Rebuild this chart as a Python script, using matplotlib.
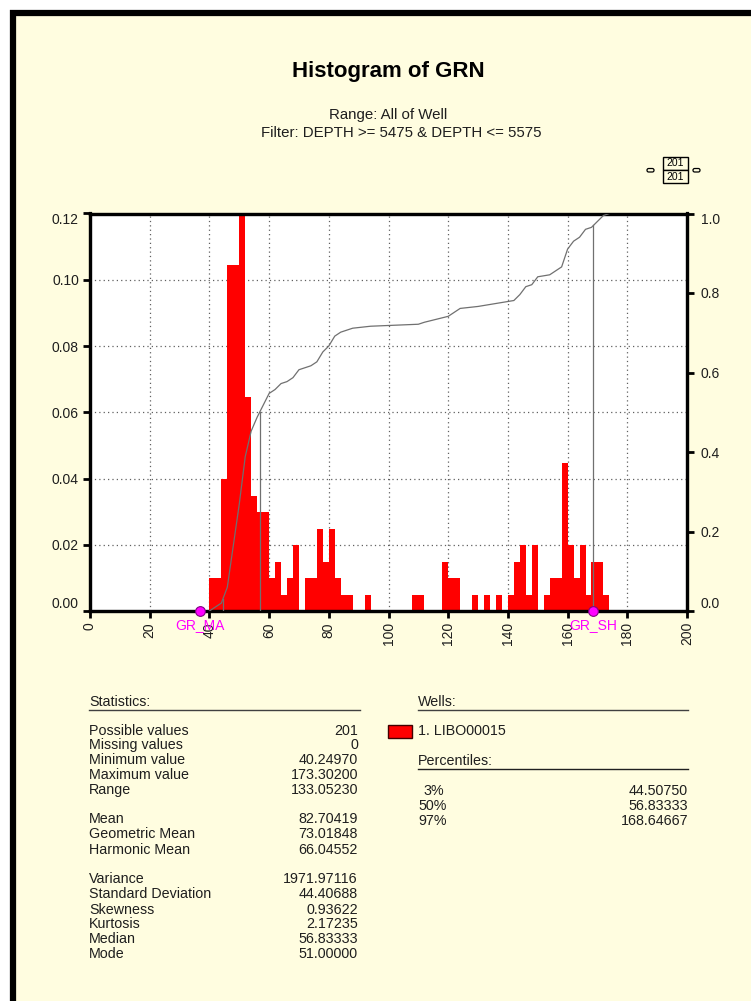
import numpy as np
import matplotlib.pyplot as plt
from matplotlib.patches import Rectangle, FancyBboxPatch
from matplotlib.lines import Line2D
from matplotlib.transforms import IdentityTransform

plt.rcParams['font.family'] = ['Liberation Sans', 'DejaVu Sans']

# ---- data -------------------------------------------------------------
n_values = 201
bin_width = 2
bin_start = [40, 42, 44, 46, 48, 50, 52, 54, 56, 58, 60, 62, 64, 66, 68,
             72, 74, 76, 78, 80, 82, 84, 86, 92, 108, 110, 118, 120, 122,
             128, 132, 136, 140, 142, 144, 146, 148, 152, 154, 156, 158,
             160, 162, 164, 166, 168, 170, 172]
bin_count = [2, 2, 8, 21, 21, 24, 13, 7, 6, 6, 2, 3, 1, 2, 4,
             2, 2, 5, 3, 5, 2, 1, 1, 1, 1, 1, 3, 2, 2,
             1, 1, 1, 1, 3, 4, 1, 4, 1, 2, 2, 9,
             4, 2, 4, 1, 3, 3, 1]

pct_labels = ["3%", "50%", "97%"]
pct_frac = [0.03, 0.50, 0.97]
pct_values = [44.50750, 56.83333, 168.64667]

param_names = ["GR_MA", "GR_SH"]
param_values = [36.9, 168.64667]

stats_groups = [
    [("Possible values", "201"), ("Missing values", "0"),
     ("Minimum value", "40.24970"), ("Maximum value", "173.30200"),
     ("Range", "133.05230")],
    [("Mean", "82.70419"), ("Geometric Mean", "73.01848"),
     ("Harmonic Mean", "66.04552")],
    [("Variance", "1971.97116"), ("Standard Deviation", "44.40688"),
     ("Skewness", "0.93622"), ("Kurtosis", "2.17235"),
     ("Median", "56.83333"), ("Mode", "51.00000")],
]
well_name = "1. LIBO00015"
x_ticks = list(range(0, 201, 20))
y_ticks = [0.00, 0.02, 0.04, 0.06, 0.08, 0.10, 0.12]
y2_ticks = [0.0, 0.2, 0.4, 0.6, 0.8, 1.0]

# ---- figure -----------------------------------------------------------
W, H = 751, 1001
fig = plt.figure(figsize=(W / 100, H / 100), dpi=100)
fig.patch.set_facecolor('white')
cream = '#FFFDE0'
txt = '#1E1E1E'


def fx(x):
    return x / W


def fy(y):
    return 1 - y / H


# panel with heavy black frame
fig.patches.append(Rectangle((fx(13), fy(1040)), fx(800), (1040 - 13) / H,
                             transform=fig.transFigure, facecolor=cream,
                             edgecolor='black', linewidth=4.5, zorder=-10))

ax = fig.add_axes([fx(90), fy(611), fx(687) - fx(90), (611 - 213.5) / H])
ax.set_facecolor('white')

density = np.array(bin_count) / n_values
ax.bar(bin_start, density, width=bin_width, align='edge', color='#FF0000',
       edgecolor='none', linewidth=0, zorder=2)

ax.set_xlim(0, 200)
ax.set_ylim(0, 0.12)
ax.set_xticks(x_ticks)
ax.set_yticks(y_ticks)
ax.set_xticklabels([str(t) for t in x_ticks], rotation=90, fontsize=10,
                   color=txt)
ax.set_yticklabels([f"{t:.2f}" for t in y_ticks], fontsize=10, color=txt)
ax.grid(True, linestyle=(0, (1, 2.5)), color='#606060', linewidth=0.9,
        zorder=1)
for s in ax.spines.values():
    s.set_linewidth(2.3)
    s.set_zorder(5)
ax.tick_params(axis='both', direction='out', length=5, width=2, pad=3)
ylabs = ax.get_yticklabels()
ylabs[0].set_va('bottom')
ylabs[-1].set_va('top')

# cumulative curve on the right-hand axis
ax2 = ax.twinx()
ax2.set_ylim(0, 1.0)
ax2.set_yticks(y2_ticks)
ax2.set_yticklabels([f"{t:.1f}" for t in y2_ticks], fontsize=10, color=txt)
ax2.tick_params(axis='y', direction='out', length=5, width=2, pad=5)
for s in ax2.spines.values():
    s.set_linewidth(2.3)
y2labs = ax2.get_yticklabels()
y2labs[0].set_va('bottom')
y2labs[-1].set_va('top')

edges = np.concatenate([[bin_start[0]], np.array(bin_start) + bin_width])
cum = np.concatenate([[0], np.cumsum(bin_count)]) / n_values
ax2.plot(edges, cum, color='#707070', linewidth=0.9, zorder=3)

for v, f in zip(pct_values, pct_frac):
    ax2.plot([v, v], [0, f], color='#707070', linewidth=0.9, zorder=3)

for name, v in zip(param_names, param_values):
    ax2.plot([v], [0], marker='o', markersize=7, color='#FF00FF',
             markeredgecolor='#800080', markeredgewidth=0.8, clip_on=False,
             zorder=10)
    ax2.annotate(name, (v, 0), xytext=(0, -5), textcoords='offset points',
                 ha='center', va='top', color='#FF00FF', fontsize=10,
                 annotation_clip=False, zorder=10)

# ---- titles -----------------------------------------------------------
fig.text(fx(388), fy(72), "Histogram of GRN", ha='center', va='center',
         fontsize=16, fontweight='bold', color='black')
fig.text(fx(388), fy(115), "Range: All of Well", ha='center', va='center',
         fontsize=10.8, color=txt)
fig.text(fx(401), fy(133), "Filter: DEPTH >= 5475 & DEPTH <= 5575",
         ha='center', va='center', fontsize=10.8, color=txt)

# small count box
for yy in (157, 170):
    fig.patches.append(Rectangle((fx(663), fy(yy + 13)), fx(25), 13 / H,
                                 transform=fig.transFigure,
                                 facecolor=cream, edgecolor='black',
                                 linewidth=1.0))
    fig.text(fx(675.5), fy(yy + 6.5), str(n_values), ha='center',
             va='center', fontsize=7.5, color='black')
for xx in (647, 693):
    fig.patches.append(FancyBboxPatch((xx, H - 172), 7, 3.5,
                                      boxstyle='round,pad=0,rounding_size=1.7',
                                      transform=IdentityTransform(),
                                      facecolor=cream, edgecolor='black',
                                      linewidth=0.9))

# ---- statistics block -------------------------------------------------
fs = 10.3
fig.text(fx(89), fy(702), "Statistics:", ha='left', va='center',
         fontsize=fs, color=txt)
fig.add_artist(Line2D([fx(89), fx(360)], [fy(710), fy(710)],
                      color='#404040', linewidth=1.0))
row_y = [[731, 745, 760, 775, 790], [819, 834, 850],
         [879, 894, 910, 924, 939, 954]]
for grp, ys in zip(stats_groups, row_y):
    for (lab, val), yy in zip(grp, ys):
        fig.text(fx(89), fy(yy), lab, ha='left', va='center', fontsize=fs,
                 color=txt)
        fig.text(fx(358), fy(yy), val, ha='right', va='center', fontsize=fs,
                 color=txt)

fig.text(fx(418), fy(702), "Wells:", ha='left', va='center', fontsize=fs,
         color=txt)
fig.add_artist(Line2D([fx(418), fx(688)], [fy(710), fy(710)],
                      color='#404040', linewidth=1.0))
fig.patches.append(Rectangle((fx(388), fy(738)), fx(24), 13 / H,
                             transform=fig.transFigure, facecolor='#FF0000',
                             edgecolor='#400000', linewidth=1.0))
fig.text(fx(418), fy(731), well_name, ha='left', va='center', fontsize=fs,
         color=txt)

fig.text(fx(418), fy(761), "Percentiles:", ha='left', va='center',
         fontsize=fs, color=txt)
fig.add_artist(Line2D([fx(418), fx(688)], [fy(769), fy(769)],
                      color='#202020', linewidth=1.0))
for lab, val, yy in zip(pct_labels, pct_values, [791, 806, 821]):
    fig.text(fx(418) if len(lab) > 2 else fx(423), fy(yy), lab, ha='left',
             va='center', fontsize=fs, color=txt)
    fig.text(fx(688), fy(yy), f"{val:.5f}", ha='right', va='center',
             fontsize=fs, color=txt)

fig.savefig('out.png', dpi=100, facecolor=fig.get_facecolor())
